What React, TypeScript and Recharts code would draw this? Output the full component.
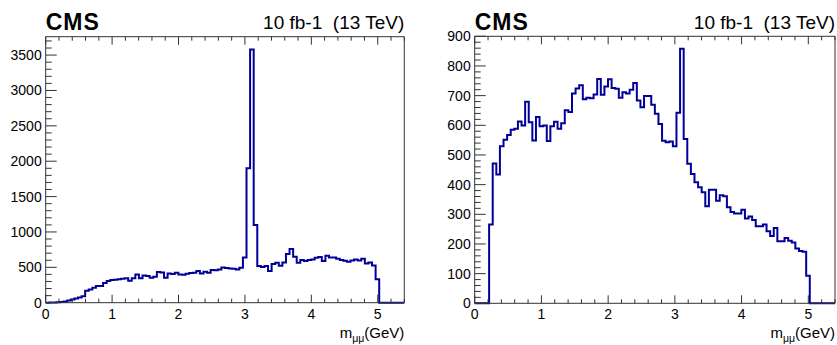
import { ComposedChart, Line, XAxis, YAxis } from 'recharts'

// 100 bins of 0.054 GeV from 0 to 5.4
const BIN_WIDTH = 0.054
const X_MAX = 5.4

const leftCounts = [
  0, 2, 4, 6, 10, 18, 30, 45, 58, 72,
  90, 170, 185, 212, 235, 237, 278, 305, 320, 323,
  330, 338, 344, 311, 344, 398, 345, 386, 377, 353,
  367, 433, 428, 353, 414, 405, 424, 400, 395, 410,
  419, 424, 447, 414, 438, 424, 461, 457, 471, 499,
  490, 485, 480, 471, 494, 640, 1900, 3580, 1100, 520,
  505, 518, 447, 546, 565, 522, 570, 690, 758, 650,
  565, 602, 588, 602, 612, 635, 645, 588, 664, 640,
  640, 621, 602, 593, 579, 598, 612, 598, 621, 555,
  570, 527, 330, 0, 0, 0, 0, 0, 0, 0,
]

const rightCounts = [
  0, 0, 0, 0, 266, 471, 434, 529, 551, 567,
  585, 588, 613, 599, 679, 610, 549, 628, 597, 599,
  547, 597, 612, 588, 607, 651, 645, 707, 724, 735,
  688, 693, 691, 704, 756, 703, 731, 755, 726, 723,
  693, 711, 707, 720, 743, 684, 661, 699, 699, 669,
  639, 604, 548, 543, 545, 529, 642, 858, 554, 470,
  436, 408, 391, 374, 327, 383, 383, 346, 364, 361,
  324, 308, 303, 303, 315, 286, 293, 281, 260, 260,
  266, 243, 227, 254, 209, 209, 220, 211, 205, 185,
  176, 174, 93, 0, 0, 0, 0, 0, 0, 0,
]

const xMajor = [0, 1, 2, 3, 4, 5]
const xTicks = Array.from({ length: 28 }, (_, i) => +(i * 0.2).toFixed(1))

const leftYMajor = [0, 500, 1000, 1500, 2000, 2500, 3000, 3500]
const leftYTicks = Array.from({ length: 38 }, (_, i) => i * 100)
const rightYMajor = [0, 100, 200, 300, 400, 500, 600, 700, 800, 900]
const rightYTicks = Array.from({ length: 46 }, (_, i) => i * 20)

const FONT = '"Liberation Sans", Arial, Helvetica, sans-serif'
const FRAME = '#333'
const HIST = '#000099'

function toSteps(counts: number[]) {
  const pts = counts.map((v, i) => ({ x: +(i * BIN_WIDTH).toFixed(3), v }))
  pts.push({ x: X_MAX, v: counts[counts.length - 1] })
  return pts
}

const bottomTick = (props: any) => {
  const { x, y, payload } = props
  const major = xMajor.includes(payload.value)
  return (
    <g>
      <line x1={x} x2={x} y1={y} y2={y - (major ? 8 : 4)} stroke={FRAME} />
      {major && (
        <text x={x} y={y + 16} textAnchor="middle" fontSize={14} fontFamily={FONT} fill="#000">
          {payload.value}
        </text>
      )}
    </g>
  )
}

const topTick = (props: any) => {
  const { x, y, payload } = props
  const major = xMajor.includes(payload.value)
  return <line x1={x} x2={x} y1={y} y2={y + (major ? 8 : 4)} stroke={FRAME} />
}

const makeLeftTick = (majors: number[]) => (props: any) => {
  const { x, y, payload } = props
  const major = majors.includes(payload.value)
  return (
    <g>
      <line x1={x} x2={x + (major ? 11 : 6)} y1={y} y2={y} stroke={FRAME} />
      {major && (
        <text x={x - 4} y={y + 5} textAnchor="end" fontSize={14} fontFamily={FONT} fill="#000">
          {payload.value}
        </text>
      )}
    </g>
  )
}

const makeRightTick = (majors: number[]) => (props: any) => {
  const { x, y, payload } = props
  const major = majors.includes(payload.value)
  return <line x1={x} x2={x - (major ? 11 : 6)} y1={y} y2={y} stroke={FRAME} />
}

type PanelProps = {
  left: number
  width: number
  plotLeft: number
  plotRight: number
  plotTop: number
  plotBottom: number
  counts: number[]
  yMax: number
  yMajor: number[]
  yTicks: number[]
}

function Panel({ left, width, plotLeft, plotRight, plotTop, plotBottom, counts, yMax, yMajor, yTicks }: PanelProps) {
  const height = 345
  const data = toSteps(counts)
  return (
    <div style={{ position: 'absolute', left, top: 0, width, height }}>
      <ComposedChart width={width} height={height} data={data} margin={{ top: 0, right: 0, bottom: 0, left: 0 }}>
        <XAxis
          xAxisId="b"
          dataKey="x"
          type="number"
          domain={[0, X_MAX]}
          ticks={xTicks}
          interval={0}
          height={height - plotBottom}
          tickSize={0}
          tickMargin={0}
          tickLine={false}
          axisLine={{ stroke: FRAME }}
          tick={bottomTick}
        />
        <XAxis
          xAxisId="t"
          orientation="top"
          dataKey="x"
          type="number"
          domain={[0, X_MAX]}
          ticks={xTicks}
          interval={0}
          height={plotTop}
          tickSize={0}
          tickMargin={0}
          tickLine={false}
          axisLine={{ stroke: FRAME }}
          tick={topTick}
        />
        <YAxis
          yAxisId="l"
          type="number"
          domain={[0, yMax]}
          ticks={yTicks}
          interval={0}
          width={plotLeft}
          tickSize={0}
          tickMargin={0}
          tickLine={false}
          axisLine={{ stroke: FRAME }}
          tick={makeLeftTick(yMajor)}
        />
        <YAxis
          yAxisId="r"
          orientation="right"
          type="number"
          domain={[0, yMax]}
          ticks={yTicks}
          interval={0}
          width={width - plotRight}
          tickSize={0}
          tickMargin={0}
          tickLine={false}
          axisLine={{ stroke: FRAME }}
          tick={makeRightTick(yMajor)}
        />
        <Line
          xAxisId="b"
          yAxisId="l"
          type="stepAfter"
          dataKey="v"
          stroke={HIST}
          strokeWidth={2}
          dot={false}
          isAnimationActive={false}
        />
      </ComposedChart>
      <svg width={width} height={height} style={{ position: 'absolute', left: 0, top: 0, pointerEvents: 'none' }}>
        <text x={plotLeft} y={30} fontSize={23} fontWeight="bold" fontFamily={FONT} letterSpacing={1} fill="#000">
          CMS
        </text>
        <text x={plotRight} y={29} fontSize={19} textAnchor="end" fontFamily={FONT} fill="#000" style={{ whiteSpace: 'pre' }}>
          {'10 fb-1  (13 TeV)'}
        </text>
        <text x={plotRight} y={338} textAnchor="end" fontFamily={FONT} fill="#000" fontSize={15}>
          m
          <tspan fontSize={10.5} dy={4}>μμ</tspan>
          <tspan dy={-4}>(GeV)</tspan>
        </text>
      </svg>
    </div>
  )
}

export default function App() {
  return (
    <div style={{ position: 'absolute', left: 0, top: 0, width: 837, height: 345, background: '#fff', overflow: 'hidden' }}>
      <Panel
        left={0}
        width={418}
        plotLeft={45.7}
        plotRight={404.3}
        plotTop={36.7}
        plotBottom={302.7}
        counts={leftCounts}
        yMax={3760}
        yMajor={leftYMajor}
        yTicks={leftYTicks}
      />
      <Panel
        left={418}
        width={419}
        plotLeft={56.7}
        plotRight={417}
        plotTop={36.3}
        plotBottom={303.3}
        counts={rightCounts}
        yMax={900}
        yMajor={rightYMajor}
        yTicks={rightYTicks}
      />
    </div>
  )
}
